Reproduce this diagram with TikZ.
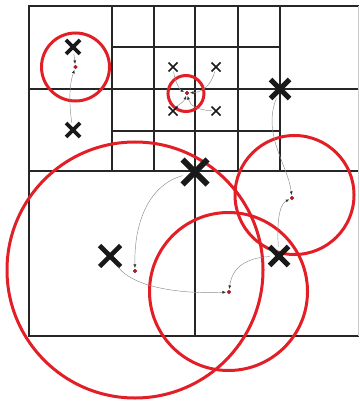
\documentclass[tikz,border=0pt]{standalone}
\usepackage{tikz}
\usetikzlibrary{arrows.meta,shapes.misc}

\definecolor{kred}{RGB}{226,30,38}

\begin{document}
\begin{tikzpicture}[
  x=1pt, y=-1pt,
  >={Latex[length=3.5pt,width=3pt,color=black!80]},
  grid/.style={line width=1.7pt, black!85},
  clus/.style={circle, draw=kred, line width=3pt, inner sep=0pt},
  pt/.style={cross out, draw=black!90, inner sep=0pt, outer sep=0pt},
  small/.style={pt, minimum size=9pt, line width=1.5pt},
  mid/.style={pt, minimum size=14pt, line width=3.8pt},
  big/.style={pt, minimum size=21pt, line width=5pt},
  ctr/.style={circle, draw=kred!60!black, fill=kred!85!black, line width=0.3pt, inner sep=0pt, minimum size=3.8pt},
  flow/.style={->, draw=black!45, line width=0.45pt, shorten >=1pt}
]
  \useasboundingbox (0,0) rectangle (359,403);

  % quadtree cells
  \draw[grid] (359,6) -| (29,336) -- (359,336);
  \draw[grid] (29,89) -- (359,89);
  \draw[grid] (29,171) -- (359,171);
  \draw[grid] (112,47) -- (280,47);
  \draw[grid] (112,131) -- (280,131);
  \foreach \x in {112,154,238,280}
    \draw[grid] (\x,6) -- (\x,171);
  \draw[grid] (195,6) -- (195,336);
  \draw[black!20, line width=0.6pt] (358,6) -- (358,336);

  % clusters
  \node[clus, minimum size=68pt] (c1) at (75.5,67) {};
  \node[clus, minimum size=36pt] (c2) at (186,93.5) {};
  \node[clus, minimum size=256pt] (c3) at (135,270) {};
  \node[clus, minimum size=119pt] (c4) at (294.5,195) {};
  \node[clus, minimum size=158pt] (c5) at (228.5,291.5) {};

  % centres
  \node[ctr] (d1) at (75.5,67) {};
  \node[ctr] (d2) at (187,93) {};
  \node[ctr] (d3) at (135,271) {};
  \node[ctr] (d4) at (292,198) {};
  \node[ctr] (d5) at (229,292) {};

  % points
  \node[mid] (a1) at (73,47) {};
  \node[mid] (a2) at (73,130) {};
  \node[small] (s1) at (173,67) {};
  \node[small] (s2) at (216,67) {};
  \node[small] (s3) at (173,111) {};
  \node[small] (s4) at (216,111) {};
  \node[big, minimum size=19pt] (b1) at (280,89) {};
  \node[big, minimum size=25pt, line width=6pt] (b2) at (195,172) {};
  \node[big, line width=4.6pt] (b3) at (110,256) {};
  \node[big, minimum size=19pt] (b4) at (279,256) {};

  % moves
  \draw[flow] (a1) -- (d1);
  \draw[flow] (a2) .. controls (69,105) and (69,85) .. (d1);
  \draw[flow] (s1) .. controls (175,82) and (180,90) .. (d2);
  \draw[flow] (s2) .. controls (212,82) and (205,92) .. (d2);
  \draw[flow] (s3) .. controls (178,105) and (184,102) .. (d2);
  \draw[flow] (s4) .. controls (198,110) and (190,106) .. (d2);
  \draw[flow] (b2) .. controls (150,185) and (134,220) .. (d3);
  \draw[flow] (b3) .. controls (135,290) and (190,294) .. (d5);
  \draw[flow] (b4) .. controls (245,258) and (232,268) .. (d5);
  \draw[flow] (b1) .. controls (262,135) and (288,165) .. (d4);
  \draw[flow] (b4) .. controls (277,228) and (278,205) .. (d4);
\end{tikzpicture}
\end{document}
